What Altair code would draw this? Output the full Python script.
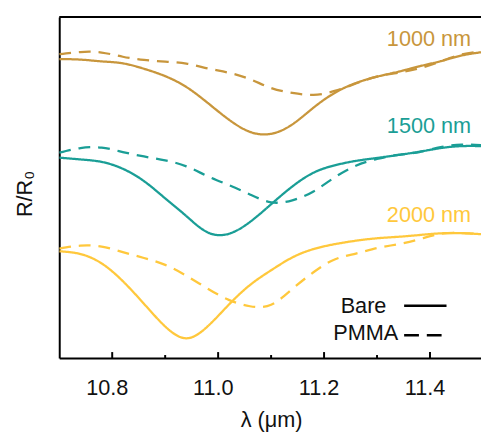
import altair as alt
import pandas as pd

# ---- data ----
lam_grid = [10.70, 10.74, 10.78, 10.82, 10.86, 10.90, 10.94, 10.98, 11.02, 11.06,
            11.10, 11.14, 11.18, 11.22, 11.26, 11.30, 11.34, 11.38, 11.42, 11.46, 11.50]

lam_1000_bare = lam_grid
r_1000_bare = [303.3, 302.8, 301.0, 299.0, 293.5, 286.0, 275.0, 259.0, 242.0, 229.5,
               227.5, 237.0, 254.0, 269.0, 279.0, 285.5, 290.5, 296.0, 301.2, 307.0, 310.5]

lam_1000_pmma = lam_grid
r_1000_pmma = [308.3, 310.5, 310.0, 305.7, 302.5, 300.7, 298.7, 294.0, 289.5, 283.0,
               274.0, 269.0, 267.0, 271.0, 278.5, 285.5, 289.5, 294.0, 301.0, 308.0, 311.0]

lam_1500_bare = lam_grid
r_1500_bare = [203.3, 201.5, 199.0, 192.0, 179.5, 162.0, 144.0, 127.5, 126.0,
               138.0, 156.0, 174.0, 188.0, 195.5, 200.0, 203.0, 206.0, 209.3, 213.0, 215.0, 215.0]

lam_1500_pmma = lam_grid
r_1500_pmma = [208.3, 213.0, 213.5, 209.0, 204.5, 200.5, 194.5, 184.5, 175.5, 166.0,
               158.0, 160.0, 169.0, 183.3, 195.0, 202.0, 206.0, 209.0, 214.0, 216.5, 216.0]

lam_2000_bare = lam_grid
r_2000_bare = [108.3, 105.5, 96.0, 78.0, 55.0, 32.0, 20.0, 32.0, 54.0, 74.0,
               89.0, 102.0, 110.5, 115.5, 119.0, 121.5, 123.0, 124.8, 126.5, 126.7, 125.5]

lam_2000_pmma = lam_grid
r_2000_pmma = [111.0, 114.0, 113.0, 107.5, 101.5, 94.5, 83.5, 70.5, 59.0, 52.5,
               54.0, 70.0, 87.0, 100.0, 106.0, 111.5, 115.5, 120.5, 126.0, 126.7, 125.5]

films = ["1000 nm", "1500 nm", "2000 nm"]
film_colors = ["#C8963C", "#1A9E96", "#FFC83C"]
coatings = ["Bare", "PMMA"]
major_ticks = [10.8, 11.0, 11.2, 11.4]
minor_ticks = [10.9, 11.1, 11.3]
tick_labels = ["10.8", "11.0", "11.2", "11.4"]

series = [
    ("1000 nm", "Bare", lam_1000_bare, r_1000_bare),
    ("1000 nm", "PMMA", lam_1000_pmma, r_1000_pmma),
    ("1500 nm", "Bare", lam_1500_bare, r_1500_bare),
    ("1500 nm", "PMMA", lam_1500_pmma, r_1500_pmma),
    ("2000 nm", "Bare", lam_2000_bare, r_2000_bare),
    ("2000 nm", "PMMA", lam_2000_pmma, r_2000_pmma),
]
rows = []
for film, coat, lams, rs in series:
    for l, r in zip(lams, rs):
        rows.append({"lam": l, "r": r, "film": film, "coat": coat, "key": film + coat})
df = pd.DataFrame(rows)

W, H = 428, 346
FONT = "Liberation Sans"
FS = 22

xscale = alt.Scale(domain=[10.7, 11.4963], nice=False, zero=False)
yscale = alt.Scale(domain=[0, 346], nice=False, zero=False)

lines = alt.Chart(df).mark_line(clip=True, interpolate="natural", strokeWidth=2.3).encode(
    x=alt.X("lam:Q", scale=xscale,
            axis=alt.Axis(values=major_ticks, ticks=False, labels=False, grid=False,
                          domainColor="black", domainWidth=2,
                          title="λ (μm)", titleFont=FONT, titleFontSize=FS,
                          titleFontWeight="normal", titleColor="#111",
                          titleX=215, titleY=70, titleBaseline="alphabetic",
                          titleAlign="center")),
    y=alt.Y("r:Q", scale=yscale,
            axis=alt.Axis(ticks=False, labels=False, grid=False,
                          domainColor="black", domainWidth=2,
                          title="R/R₀", titleFont=FONT, titleFontSize=FS,
                          titleFontWeight="normal", titleColor="#111",
                          titleAngle=270, titleX=-28, titleY=179,
                          titleBaseline="alphabetic", titleAlign="center")),
    color=alt.Color("film:N", scale=alt.Scale(domain=films, range=film_colors), legend=None),
    strokeDash=alt.StrokeDash("coat:N", scale=alt.Scale(domain=coatings, range=[[1, 0], [12, 8]]),
                              legend=None),
    detail="key:N",
)

tick_df = pd.DataFrame({"lam": major_ticks + minor_ticks,
                        "kind": ["major"] * len(major_ticks) + ["minor"] * len(minor_ticks),
                        "label": tick_labels + [""] * len(minor_ticks)})
major = alt.Chart(tick_df).transform_filter(alt.datum.kind == "major").mark_rule(
    color="black", strokeWidth=2).encode(
    x=alt.X("lam:Q", scale=xscale), y=alt.value(H), y2=alt.value(H - 6))
minor = alt.Chart(tick_df).transform_filter(alt.datum.kind == "minor").mark_rule(
    color="black", strokeWidth=2).encode(
    x=alt.X("lam:Q", scale=xscale), y=alt.value(H), y2=alt.value(H - 3))
labels = alt.Chart(tick_df).transform_filter(alt.datum.kind == "major").mark_text(
    font=FONT, fontSize=FS, fontWeight="normal", color="#111", align="center",
    baseline="alphabetic", dx=-5).encode(
    x=alt.X("lam:Q", scale=xscale), y=alt.value(H + 38), text="label:N")

one = pd.DataFrame({"t": [""]})
top = alt.Chart(one).mark_rule(color="black", strokeWidth=2).encode(
    x=alt.value(0), x2=alt.value(W + 10), y=alt.value(0))

layers = [lines, major, minor, labels, top]

label_y = [22, 111, 201]
for film, col, yy in zip(films, film_colors, label_y):
    layers.append(alt.Chart(pd.DataFrame({"t": [film]})).mark_text(
        color=col, font=FONT, fontSize=FS, fontWeight="normal",
        align="right", baseline="middle").encode(
        x=alt.value(418), y=alt.value(yy), text="t:N"))

legend_text = [("Bare", 332, 293), ("PMMA", 344, 321)]
for txt, xx, yy in legend_text:
    layers.append(alt.Chart(pd.DataFrame({"t": [txt]})).mark_text(
        color="#111", font=FONT, fontSize=FS, fontWeight="normal",
        align="right", baseline="middle").encode(
        x=alt.value(xx), y=alt.value(yy), text="t:N"))

layers.append(alt.Chart(one).mark_rule(color="black", strokeWidth=2.5).encode(
    x=alt.value(350), x2=alt.value(393), y=alt.value(293)))
layers.append(alt.Chart(one).mark_rule(color="black", strokeWidth=2.5, strokeDash=[15, 8]).encode(
    x=alt.value(350), x2=alt.value(388), y=alt.value(323)))

chart = alt.layer(*layers).properties(
    width=W, height=H,
    autosize=alt.AutoSizeParams(type="none"),
    padding={"left": 52, "top": 6, "right": 0, "bottom": 76},
).configure_view(stroke=None)

chart.save("out.html", embed_options={"renderer": "svg", "actions": False})
